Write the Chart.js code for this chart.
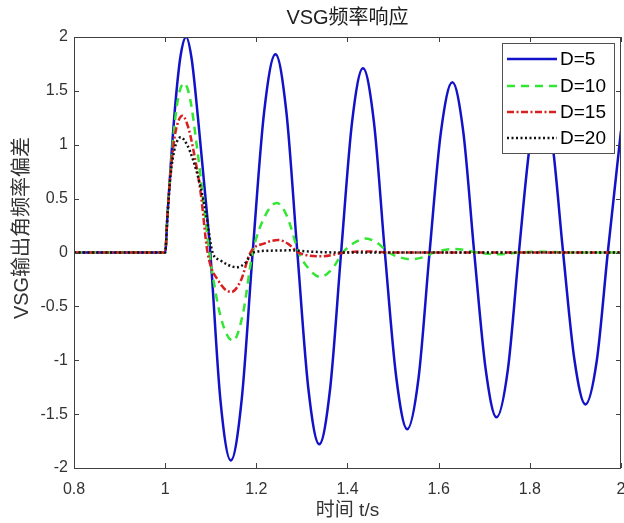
<!DOCTYPE html>
<html>
<head>
<meta charset="utf-8">
<title>VSG频率响应</title>
<script src="https://cdn.jsdelivr.net/npm/chart.js@4.4.1/dist/chart.umd.min.js"></script>
<style>
    html, body { margin: 0; padding: 0; background: #fff; }
    #wrap { width: 624px; height: 523px; }
</style>
</head>
<body>
<div id="wrap"><canvas id="freqChart" width="624" height="523"></canvas></div>
<script>
// 坐标轴刻度
const xTicks = [0.8, 1, 1.2, 1.4, 1.6, 1.8, 2];
const yTicks = [-2, -1.5, -1, -0.5, 0, 0.5, 1, 1.5, 2];
const seriesNames = ['D=5', 'D=10', 'D=15', 'D=20'];

// D=5
const tD5 = [0.8, 1.0, 1.005, 1.012, 1.023, 1.034, 1.046, 1.058, 1.072, 1.086, 1.099,
    1.121, 1.144, 1.168, 1.192, 1.217, 1.242, 1.266, 1.290, 1.314, 1.338, 1.362,
    1.386, 1.410, 1.434, 1.458, 1.482, 1.507, 1.531, 1.556, 1.580, 1.605, 1.630,
    1.654, 1.678, 1.703, 1.727, 1.752, 1.776, 1.801, 1.825, 1.849, 1.873, 1.898,
    1.922, 1.947, 1.971, 2.0];
const yD5 = [0, 0, 0.34, 0.80, 1.41, 1.83, 2.00, 1.80, 1.25, 0.62, 0,
    -1.36, -1.93, -1.36, 0, 1.30, 1.84, 1.30, 0, -1.26, -1.78, -1.26,
    0, 1.21, 1.71, 1.21, 0, -1.16, -1.64, -1.16, 0, 1.12, 1.58,
    1.12, 0, -1.08, -1.53, -1.08, 0, 1.03, 1.46, 1.03, 0, -1.00,
    -1.41, -1.00, 0, 1.13];

// D=10
const tD10 = [0.8, 1.0, 1.005, 1.012, 1.022, 1.032, 1.042, 1.055, 1.070, 1.084, 1.097,
    1.122, 1.149, 1.170, 1.192, 1.218, 1.245, 1.268, 1.293, 1.317, 1.340, 1.365,
    1.390, 1.415, 1.440, 1.465, 1.490, 1.515, 1.540, 1.565, 1.590, 1.635, 1.685,
    1.730, 1.780, 1.830, 1.880, 2.0];
const yD10 = [0, 0, 0.34, 0.76, 1.24, 1.50, 1.57, 1.42, 0.97, 0.48, 0,
    -0.60, -0.82, -0.58, 0, 0.33, 0.46, 0.33, 0, -0.16, -0.227, -0.16,
    0, 0.09, 0.13, 0.09, 0, -0.045, -0.063, -0.045, 0, 0.033, 0,
    -0.017, 0, 0.008, 0, 0];

// D=15
const tD15 = [0.8, 1.0, 1.005, 1.012, 1.020, 1.029, 1.038, 1.050, 1.062, 1.078, 1.093,
    1.118, 1.145, 1.166, 1.187, 1.218, 1.248, 1.270, 1.292, 1.345, 1.395, 1.445,
    1.495, 2.0];
const yD15 = [0, 0, 0.34, 0.74, 1.05, 1.22, 1.27, 1.17, 0.95, 0.55, 0,
    -0.27, -0.367, -0.26, 0, 0.085, 0.116, 0.08, 0, -0.035, 0, 0.01,
    0, 0];

// D=20
const tD20 = [0.8, 1.0, 1.005, 1.012, 1.020, 1.027, 1.034, 1.048, 1.062, 1.077, 1.090,
    1.104, 1.120, 1.138, 1.157, 1.175, 1.193, 1.230, 1.274, 1.320, 1.380, 2.0];
const yD20 = [0, 0, 0.34, 0.72, 0.95, 1.04, 1.07, 1.00, 0.85, 0.62, 0.35,
    0, -0.07, -0.115, -0.137, -0.10, 0, 0.017, 0.02, 0.008, 0, 0];

const FONT = "'Liberation Sans', Arial, 'Noto Sans CJK SC', sans-serif";
const chartTitle = 'VSG频率响应';
const yTitle = 'VSG输出角频率偏差';

function toPoints(ts, ys) {
    return ts.map((t, i) => ({ x: t, y: ys[i] }));
}

function fmtTick(v) {
    return String(Math.round(v * 10) / 10);
}

function lineSet(label, ts, ys, color, dash, order) {
    return {
        label: label,
        data: toPoints(ts, ys),
        borderColor: color,
        backgroundColor: color,
        borderWidth: 2.5,
        borderDash: dash,
        borderCapStyle: 'butt',
        pointRadius: 0,
        cubicInterpolationMode: 'monotone',
        fill: false,
        order: order
    };
}

// 仿 MATLAB 坐标框、内向刻度、标题和图例
const matlabBox = {
    id: 'matlabBox',
    afterDatasetsDraw(chart) {
        const { ctx, chartArea: a, scales: { x, y } } = chart;
        ctx.save();
        ctx.strokeStyle = '#404040';
        ctx.lineWidth = 1;
        ctx.beginPath();
        xTicks.forEach(v => {
            const px = Math.round(x.getPixelForValue(v)) + 0.5;
            ctx.moveTo(px, a.bottom); ctx.lineTo(px, a.bottom - 5);
            ctx.moveTo(px, a.top); ctx.lineTo(px, a.top + 5);
        });
        yTicks.forEach(v => {
            const py = Math.round(y.getPixelForValue(v)) + 0.5;
            ctx.moveTo(a.left, py); ctx.lineTo(a.left + 5, py);
            ctx.moveTo(a.right, py); ctx.lineTo(a.right - 5, py);
        });
        ctx.stroke();
        ctx.strokeRect(Math.round(a.left) + 0.5, Math.round(a.top) + 0.5,
            Math.round(a.right - a.left) - 1, Math.round(a.bottom - a.top));

        // 标题（居中于坐标区）
        ctx.fillStyle = '#222';
        ctx.font = '20px ' + FONT;
        ctx.textAlign = 'center';
        ctx.textBaseline = 'middle';
        ctx.fillText(chartTitle, (a.left + a.right) / 2, 18);

        // y 轴标题
        ctx.save();
        ctx.translate(22, 228);
        ctx.rotate(-Math.PI / 2);
        ctx.fillStyle = '#333';
        ctx.font = '20px ' + FONT;
        ctx.fillText(yTitle, 0, 0);
        ctx.restore();

        // 图例
        const lx = 502, ly = 43, lw = 112, lh = 110;
        ctx.fillStyle = '#fff';
        ctx.fillRect(lx, ly, lw, lh);
        ctx.strokeStyle = '#505050';
        ctx.strokeRect(lx + 0.5, ly + 0.5, lw, lh);
        const rows = [59, 86, 112, 138];
        ctx.font = '19px ' + FONT;
        ctx.textBaseline = 'middle';
        ctx.textAlign = 'left';
        chart.data.datasets.forEach((ds, i) => {
            ctx.beginPath();
            ctx.strokeStyle = ds.borderColor;
            ctx.lineWidth = ds.borderWidth;
            ctx.setLineDash(ds.borderDash);
            ctx.moveTo(507, rows[i]);
            ctx.lineTo(557, rows[i]);
            ctx.stroke();
            ctx.setLineDash([]);
            ctx.fillStyle = '#000';
            ctx.fillText(ds.label, 560, rows[i] + 1);
        });
        ctx.restore();
    }
};

const ctx = document.getElementById('freqChart').getContext('2d');
const freqChart = new Chart(ctx, {
    type: 'line',
    data: {
        datasets: [
            lineSet(seriesNames[0], tD5, yD5, '#1212c8', [], 3),
            lineSet(seriesNames[1], tD10, yD10, '#33e633', [8, 6], 2),
            lineSet(seriesNames[2], tD15, yD15, '#d82020', [7, 2.5, 2, 2.5], 1),
            lineSet(seriesNames[3], tD20, yD20, '#111111', [2, 2.5], 0)
        ]
    },
    options: {
        responsive: false,
        devicePixelRatio: 1,
        animation: false,
        layout: { padding: { left: 0, right: 3, top: 37, bottom: 0 } },
        plugins: {
            legend: { display: false },
            tooltip: { enabled: false },
            title: { display: false }
        },
        scales: {
            x: {
                type: 'linear',
                min: 0.8,
                max: 2,
                afterBuildTicks: s => { s.ticks = xTicks.map(v => ({ value: v })); },
                afterFit: s => { s.height = 55; s.paddingLeft = 0; s.paddingRight = 0; },
                grid: { display: false, drawTicks: false },
                border: { display: false },
                ticks: {
                    color: '#333',
                    padding: 12,
                    maxRotation: 0,
                    autoSkip: false,
                    callback: fmtTick,
                    font: { family: FONT, size: 16 }
                },
                title: {
                    display: true,
                    text: '时间 t/s',
                    color: '#333',
                    font: { family: FONT, size: 19 },
                    padding: { top: 0, bottom: 1 }
                }
            },
            y: {
                type: 'linear',
                min: -2,
                max: 2,
                afterBuildTicks: s => { s.ticks = yTicks.map(v => ({ value: v })); },
                afterFit: s => { s.width = 74; s.paddingTop = 0; s.paddingBottom = 0; },
                grid: { display: false, drawTicks: false },
                border: { display: false },
                ticks: {
                    color: '#333',
                    padding: 6,
                    autoSkip: false,
                    callback: fmtTick,
                    font: { family: FONT, size: 16 }
                },
                title: { display: false }
            }
        }
    },
    plugins: [matlabBox]
});
</script>
</body>
</html>
